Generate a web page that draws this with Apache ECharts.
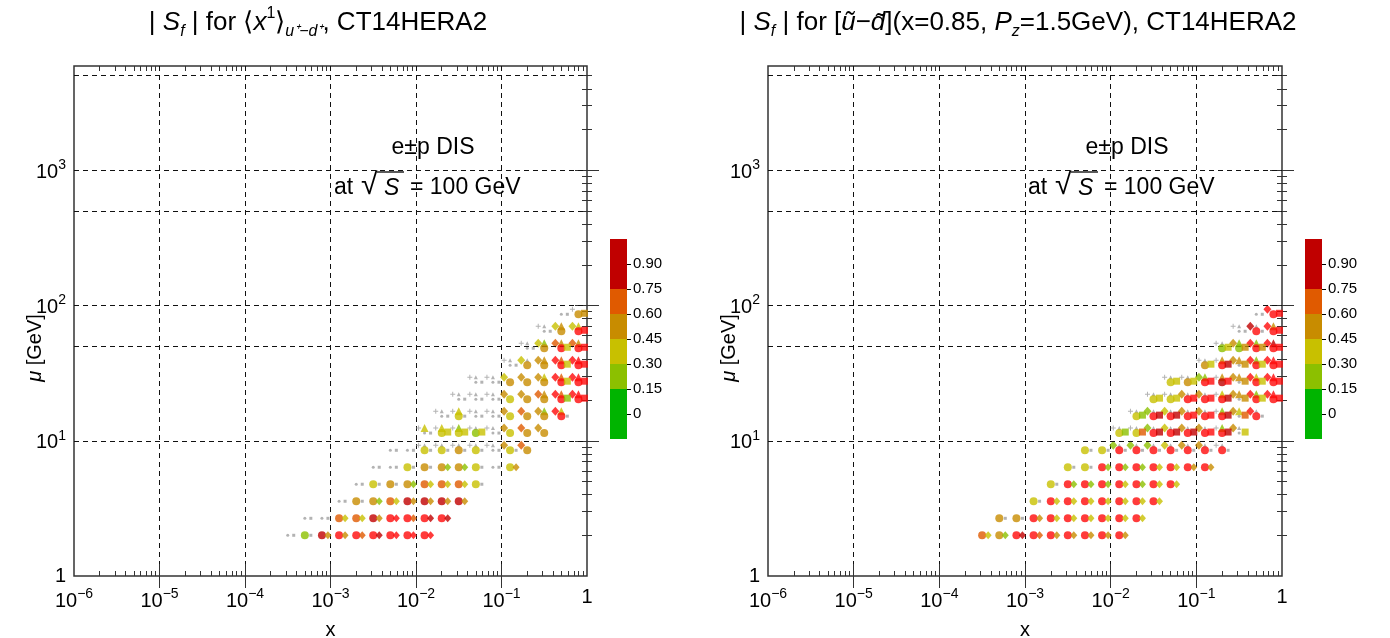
<!DOCTYPE html>
<html>
<head>
<meta charset="utf-8">
<title>Sensitivity maps, CT14HERA2</title>
<script src="https://cdn.jsdelivr.net/npm/echarts@6.0.0/dist/echarts.min.js"></script>
<style>
html, body { margin: 0; padding: 0; background: #ffffff; }
#chart { width: 1390px; height: 638px; }
</style>
</head>
<body>
<div id="chart"></div>
<script>
// ---------- kinematic bins (x, mu) ----------
const xBins = [3.16e-4, 5.01e-4, 7.94e-4, 1.26e-3, 2.00e-3, 3.16e-3, 5.01e-3, 7.94e-3,
               1.26e-2, 2.00e-2, 3.16e-2, 5.01e-2, 7.94e-2, 0.126, 0.200, 0.316, 0.501, 0.794];
const muBins = [2.0, 2.67, 3.57, 4.77, 6.37, 8.5, 11.4, 15.2, 20.3, 27.1, 36.2, 48.3, 64.5, 86.1];
const MU_MAX = 5900;

// guide lines and ticks
const muGuides = [10, 50, 100, 500, 1000, 5000];
const xExponents = [-6, -5, -4, -3, -2, -1, 0];
const muExponents = [0, 1, 2, 3];

// colour scale of |S_f|
const cbTicks = [0, 0.15, 0.30, 0.45, 0.60, 0.75, 0.90];
const cbEdges = [-0.15, 0.15, 0.30, 0.45, 0.60, 0.75, 1.05];
const cbColors = ['#00b400', '#8cc000', '#c8c000', '#c88c00', '#e05a00', '#c00000'];
const overColor = '#ff0a0a';
const faintColor = '#a0a0a0';
const FAINT_CUT = 0.1;

// |S_f| per bin; each row (one per mu bin) = [first x-bin index, values...]
// <x^1>_{u+ - d+}
const leftCircle = [
  [0, [0.05, 0.22, 0.85, 1.2, 1.2, 1.2, 1.2, 1.2, 1.2]],
  [1, [0.05, 0.05, 0.67, 0.67, 0.85, 1.2, 1.2, 1.2, 1.2]],
  [3, [0.05, 0.52, 0.52, 0.67, 0.85, 0.85, 0.85, 0.85]],
  [4, [0.05, 0.37, 0.52, 0.52, 0.67, 0.67, 0.67, 0.37]],
  [5, [0.05, 0.05, 0.37, 0.52, 0.52, 0.52, 0.37, 0.05, 0.37]],
  [6, [0.05, 0.05, 0.37, 0.37, 0.52, 0.37, 0.05, 0.37, 0.52]],
  [8, [0.05, 0.37, 0.37, 0.22, 0.05, 0.37, 0.52, 0.52]],
  [9, [0.05, 0.37, 0.05, 0.05, 0.37, 0.52, 0.52, 1.2]],
  [10, [0.05, 0.05, 0.05, 0.37, 0.52, 0.52, 1.2, 1.2]],
  [11, [0.05, 0.05, 0.52, 0.52, 0.52, 1.2, 1.2]],
  [13, [0.05, 0.52, 0.52, 1.2, 1.2]],
  [14, [0.05, 0.52, 1.2, 1.2]],
  [15, [0.05, 0.52, 1.2]],
  [16, [0.05, 0.52]]
];
const leftSide = [
  [0, [0.05, 0.05, 0.52, 0.52, 0.67, 0.85, 1.2, 1.2, 1.2]],
  [1, [0.05, 0.05, 0.37, 0.37, 0.52, 1.2, 0.67, 0.85, 0.85]],
  [3, [0.05, 0.05, 0.22, 0.37, 0.52, 0.52, 0.52, 0.52]],
  [4, [0.05, 0.05, 0.05, 0.22, 0.37, 0.37, 0.37, 0.05]],
  [5, [0.05, 0.05, 0.05, 0.05, 0.22, 0.22, 0.05, 0.05, 0.52]],
  [6, [0.05, 0.05, 0.05, 0.05, 0.05, 0.05, 0.05, 0.05]],
  [8, [0.05, 0.37, 0.37, 0.37, 0.05]],
  [9, [0.05, 0.05, 0.05, 0.05, null, null, null, 0.05]],
  [10, [0.05, 0.05, 0.05, null, null, null, 0.22, 1.2]],
  [11, [0.05, 0.05, null, null, null, 0.37, 1.2]],
  [13, [0.05, null, null, 0.37, 1.2]],
  [14, [0.05, null, 0.37, 1.2]],
  [15, [0.05, null, 1.2]],
  [16, [0.05, 0.52]]
];
const leftDiamond = [
  null, null, null, null, null,
  [8, [0.05, 0.05, 0.05, 0.05, 0.05, 0.52, 0.67]],
  [8, [0.05, 0.05, 0.05, 0.05, 0.05, 0.52, 0.67, 0.52]],
  [9, [0.05, 0.05, 0.05, 0.05, 0.52, 0.67, 0.52, 1.2]],
  [10, [0.05, 0.05, 0.05, 0.52, 0.52, 0.67, 1.2, 1.2]],
  [11, [0.05, 0.05, 0.37, 0.52, 0.52, 1.2, 1.2]],
  [13, [0.05, 0.37, 0.52, 1.2, 1.2]],
  [14, [0.05, 0.37, 0.67, 0.67]],
  [15, [0.05, 0.37, 0.37]],
  [17, [0.05]]
];
const leftTriangle = [
  null, null, null, null, null,
  [8, [0.05, 0.05, 0.05, 0.05, 0.05]],
  [8, [0.37, 0.37, 0.22, 0.05, 0.05]],
  [9, [0.05, 0.37, 0.05, 0.05, null, null, 0.22, 0.37]],
  [10, [0.05, 0.05, 0.05, null, null, 0.52, 0.67, 1.2]],
  [11, [0.05, 0.05, null, null, 0.37, 0.67, 1.2]],
  [13, [0.05, 0.05, 0.52, 0.67, 1.2]],
  [14, [0.05, 0.22, 0.52, 0.52]],
  [15, [0.05, 0.52, 0.37]],
  null
];

// [u~ - d~](x = 0.85, Pz = 1.5 GeV)
const rightCircle = [
  [0, [0.67, 0.52, 1.2, 1.2, 1.2, 1.2, 1.2, 1.2, 1.2]],
  [1, [0.52, 0.52, 1.2, 1.2, 1.2, 1.2, 1.2, 1.2, 1.2]],
  [3, [0.37, 1.2, 1.2, 1.2, 1.2, 1.2, 1.2, 1.2]],
  [4, [0.37, 1.2, 1.2, 1.2, 1.2, 1.2, 1.2, 1.2]],
  [5, [0.37, 0.37, 1.2, 1.2, 1.2, 1.2, 1.2, 1.2, 1.2]],
  [6, [0.37, 0.37, 1.2, 1.2, 1.2, 1.2, 1.2, 1.2, 1.2]],
  [8, [0.37, 0.37, 1.2, 1.2, 1.2, 1.2, 1.2, 0.05]],
  [9, [0.37, 1.2, 1.2, 1.2, 1.2, 1.2, 0.05, 1.2]],
  [10, [0.37, 0.37, 1.2, 1.2, 1.2, 0.05, 1.2, 1.2]],
  [11, [0.37, 0.52, 1.2, 0.85, 0.05, 1.2, 1.2]],
  [13, [0.52, 1.2, 0.05, 1.2, 1.2]],
  [14, [0.22, 0.22, 1.2, 1.2]],
  [15, [0.05, 1.2, 1.2]],
  [16, [0.05, 1.2]]
];
const rightSide = [
  [0, [0.37, 0.22, 0.85, 0.67, 0.52, 0.52, 0.52, 0.52, 0.52]],
  [1, [0.05, 0.05, 0.52, 0.37, 0.37, 0.37, 0.37, 0.37, 0.37]],
  [3, [0.05, 0.37, 0.37, 0.37, 0.37, 0.37, 0.37, 0.37]],
  [4, [0.05, 0.22, 0.22, 0.22, 0.37, 0.22, 0.37, 0.37]],
  [5, [0.05, 0.05, 0.22, 0.22, 0.22, 0.37, 0.37, 0.52, 0.52]],
  [6, [0.05, 0.05, 0.05, 0.05, 0.05, 0.05, 0.05, 0.05, 0.05]],
  [8, [0.22, 0.67, 0.85, 0.85, 0.85, 1.2, 0.85, 0.37]],
  [9, [0.22, 0.85, 0.85, 1.2, 1.2, 0.85, 0.67, 0.05]],
  [10, [0.37, 0.37, 1.2, 1.2, 0.85, 0.52, 0.37, 1.2]],
  [11, [0.37, 0.37, 1.2, 1.2, 0.52, 0.37, 1.2]],
  [13, [0.37, 0.85, 0.52, 0.37, 1.2]],
  [14, [0.37, 0.52, 0.52, 1.2]],
  [15, [0.05, 0.05, 1.2]],
  [16, [0.05, 1.2]]
];
const rightDiamond = [
  null, null, null, null, null,
  [8, [0.22, 0.22, 0.22, 0.37, 0.52, 0.52, 0.05]],
  [8, [0.05, 0.05, 0.22, 0.37, 0.52, 0.52, 0.05, 0.52]],
  [9, [0.05, 0.22, 0.37, 0.52, 0.52, 0.05, 0.52, 1.2]],
  [10, [0.05, 0.05, 0.52, 0.52, 0.05, 0.52, 1.2, 1.2]],
  [11, [0.05, 0.05, 0.22, 0.05, 0.52, 1.2, 1.2]],
  [13, [0.05, 0.05, 0.52, 1.2, 1.2]],
  [14, [0.05, 0.52, 1.2, 1.2]],
  [15, [0.05, 0.85, 1.2]],
  [17, [1.2]]
];
const rightTriangle = [
  null, null, null, null, null,
  [8, [0.05, 0.05, 0.05, 0.05, 0.05, 0.05, 0.05]],
  [8, [0.05, 0.05, 0.05, 0.05, 0.05, 0.05, 0.22, 0.05]],
  [9, [0.05, 0.05, 0.05, 0.05, 0.05, 0.22, 0.37, 0.05]],
  [10, [0.05, 0.05, 0.05, 0.05, 0.37, 0.52, 0.22, 1.2]],
  [11, [0.05, 0.05, 0.22, 0.52, 0.52, 0.37, 1.2]],
  [13, [0.05, 0.52, 0.52, 0.22, 1.2]],
  [14, [0.05, 0.22, 0.22, 0.85]],
  [15, [0.05, 0.05, 0.52]],
  null
];

// ---------- styling helpers ----------
const FONT = 'Liberation Sans';
const AX = '#333333';

function bandColor(v) {
  if (v < FAINT_CUT) return faintColor;
  if (v > 1) return overColor;
  for (let i = 0; i < cbColors.length; i++) {
    if (v < cbEdges[i + 1]) return cbColors[i];
  }
  return cbColors[cbColors.length - 1];
}

const PLUS = 'path://M2,0L3,0L3,2L5,2L5,3L3,3L3,5L2,5L2,3L0,3L0,2L2,2Z';

// marker shape of each measurement family, with its offset inside a bin cluster
const MARKERS = {
  circle:   (faint, r) => faint ? { symbol: 'circle', size: 3, offset: [0, 0] }
                                : { symbol: 'circle', size: 8, offset: [0, 0] },
  side:     (faint, r) => faint ? { symbol: 'rect', size: 3, offset: [6, 0] }
                                : (r < 6 ? { symbol: 'diamond', size: [7, 8], offset: [6, 0] }
                                         : { symbol: 'rect', size: 7, offset: [6, -1] }),
  diamond:  (faint, r) => faint ? { symbol: PLUS, size: 5, offset: [-6, -5] }
                                : { symbol: 'diamond', size: [8, 9], offset: [-6, -5] },
  triangle: (faint, r) => faint ? { symbol: 'triangle', size: 4, offset: [0, -5] }
                                : { symbol: 'triangle', size: 8, offset: [0, -5] }
};

function markItems(rows, kind) {
  const out = [];
  rows.forEach((row, r) => {
    if (!row) return;
    const j0 = row[0];
    row[1].forEach((v, i) => {
      if (v == null) return;
      const m = MARKERS[kind](v < FAINT_CUT, r);
      out.push({
        value: [xBins[j0 + i], muBins[r], v],
        symbol: m.symbol,
        symbolSize: m.size,
        symbolOffset: m.offset,
        itemStyle: { color: bandColor(v) }
      });
    });
  });
  return out;
}

function powLabel(v) {
  const e = Math.round(v);
  if (Math.abs(v - e) > 1e-6) return '';
  if (e === 0) return '1';
  return '{b|10}{s|' + (e < 0 ? '\u2212' + (-e) : e) + '}';
}
const powRich = {
  b: { fontSize: 20, lineHeight: 24, verticalAlign: 'bottom', fontFamily: FONT, color: '#000' },
  s: { fontSize: 14, lineHeight: 14, verticalAlign: 'top', fontFamily: FONT, color: '#000' }
};

const minorX = [];
for (let n = -6; n < 0; n++) for (let m = 2; m <= 9; m++) minorX.push(n + Math.log10(m));
const minorY = [];
for (let n = 0; n <= 3; n++) for (let m = 2; m <= 9; m++) {
  const t = n + Math.log10(m);
  if (t < Math.log10(MU_MAX)) minorY.push(t);
}

const TF = 26;
const titleRich = {
  i:   { fontSize: TF, lineHeight: 34, fontStyle: 'italic', fontFamily: FONT, color: '#000' },
  sbi: { fontSize: 16, lineHeight: 16, verticalAlign: 'bottom', fontStyle: 'italic', fontFamily: FONT, color: '#000' },
  sp:  { fontSize: 16, lineHeight: 16, verticalAlign: 'top', fontFamily: FONT, color: '#000' }
};

const panels = [
  {
    left: 74, width: 513, cbLeft: 610, titleX: 313,
    title: '| {i|S}{sbi|f} | for \u27E8{i|x}{sp|1}\u27E9{sbi|u\u207A\u2212d\u207A}, CT14HERA2',
    circle: leftCircle, side: leftSide, diamond: leftDiamond, triangle: leftTriangle
  },
  {
    left: 768, width: 514, cbLeft: 1305, titleX: 1013,
    title: '| {i|S}{sbi|f} | for [{i|\u0169}\u2212{i|d\u0303}](x=0.85, {i|P}{sbi|z}=1.5GeV), CT14HERA2',
    circle: rightCircle, side: rightSide, diamond: rightDiamond, triangle: rightTriangle
  }
];

const grid = [], xAxis = [], yAxis = [], series = [], title = [], graphic = [];
const dashed = { type: [5, 4], color: '#111', width: 1 };

function tickAxis(dim, gridIndex, position, major, labelled) {
  const isX = dim === 'x';
  const ax = {
    gridIndex: gridIndex,
    type: 'value',
    position: position,
    min: isX ? -6 : 0,
    max: isX ? 0 : Math.log10(MU_MAX),
    interval: 1,
    axisLine: { show: false },
    splitLine: { show: false },
    axisTick: {
      show: true, inside: true, length: major ? 12 : 5,
      lineStyle: { color: AX, width: 1 },
      customValues: major ? (isX ? [-5, -4, -3, -2, -1] : [1, 2, 3]) : (isX ? minorX : minorY)
    },
    axisLabel: { show: false }
  };
  if (labelled) {
    ax.axisLabel = {
      show: true, formatter: powLabel, fontSize: 20, fontFamily: FONT, color: '#000',
      margin: isX ? 11 : 8, rich: powRich,
      customValues: isX ? xExponents : muExponents
    };
    if (isX) {
      ax.name = 'x';
      ax.nameLocation = 'middle';
      ax.nameGap = 44;
      ax.nameMoveOverlap = false;
      ax.nameTextStyle = { fontSize: 20, fontFamily: FONT, color: '#000' };
      // vertical dashed lines at each decade of x
      ax.splitLine = { show: true, lineStyle: dashed };
    }
  }
  return ax;
}

panels.forEach((p, pi) => {
  const g = grid.length;
  grid.push({ left: p.left, top: 66, width: p.width, height: 510, show: true,
              borderColor: AX, borderWidth: 1.5, backgroundColor: 'transparent',
              outerBoundsMode: 'none' });
  const xi = xAxis.length;
  xAxis.push({ gridIndex: g, type: 'log', logBase: 10, min: 1e-6, max: 1, show: false });
  const yi = yAxis.length;
  yAxis.push({ gridIndex: g, type: 'log', logBase: 10, min: 1, max: MU_MAX, show: false });

  xAxis.push(tickAxis('x', g, 'bottom', true, true));
  xAxis.push(tickAxis('x', g, 'bottom', false, false));
  xAxis.push(tickAxis('x', g, 'top', true, false));
  xAxis.push(tickAxis('x', g, 'top', false, false));
  yAxis.push(tickAxis('y', g, 'left', true, true));
  yAxis.push(tickAxis('y', g, 'left', false, false));
  yAxis.push(tickAxis('y', g, 'right', true, false));
  yAxis.push(tickAxis('y', g, 'right', false, false));

  // horizontal dashed guide lines in mu
  series.push({
    type: 'scatter', xAxisIndex: xi, yAxisIndex: yi, data: [], z: 1, silent: true,
    markLine: {
      silent: true, symbol: ['none', 'none'], label: { show: false },
      lineStyle: dashed, emphasis: { disabled: true },
      data: muGuides.map(v => ({ yAxis: v }))
    }
  });

  ['diamond', 'triangle', 'circle', 'side'].forEach((kind, k) => {
    series.push({
      type: 'scatter', name: kind, xAxisIndex: xi, yAxisIndex: yi, z: 3 + k,
      silent: true, data: markItems(p[kind], kind)
    });
  });

  // colour bar
  const cg = grid.length;
  grid.push({ left: p.cbLeft, top: 239, width: 17, height: 200, outerBoundsMode: 'none' });
  const cx = xAxis.length;
  xAxis.push({ gridIndex: cg, type: 'category', data: [''], show: false });
  const cy = yAxis.length;
  yAxis.push({
    gridIndex: cg, type: 'value', position: 'right', min: -0.15, max: 1.05, interval: 0.15,
    axisLine: { show: false }, splitLine: { show: false },
    axisTick: { show: true, length: 4, lineStyle: { color: '#000' }, customValues: cbTicks },
    axisLabel: {
      fontSize: 15, fontFamily: FONT, color: '#000', margin: 6, customValues: cbTicks,
      formatter: v => {
        const r = Math.round(v * 100);
        if (r < 0 || r > 100) return '';
        return r === 0 ? '0' : (r / 100).toFixed(2);
      }
    }
  });
  for (let b = 0; b < cbColors.length; b++) {
    const lo = cbEdges[b], hi = cbEdges[b + 1];
    const parts = (lo < 0 && hi > 0) ? [lo, hi] : [hi - lo];
    parts.forEach(val => {
      series.push({
        type: 'bar', xAxisIndex: cx, yAxisIndex: cy, stack: 'cb' + pi, barWidth: '100%',
        silent: true, data: [val], itemStyle: { color: cbColors[b] }
      });
    });
  }

  title.push({
    text: p.title, left: p.titleX, top: 1, textAlign: 'center',
    textStyle: { fontSize: TF, lineHeight: 34, fontWeight: 'normal', fontFamily: FONT, color: '#000', rich: titleRich }
  });

  const dx = p.left - 74;

  // y-axis title, read bottom to top
  graphic.push({
    type: 'text', x: 35 + dx, y: 348, rotation: Math.PI / 2, z: 100, silent: true,
    style: {
      text: '{i|\u03BC} [GeV]', fontSize: 20, fontFamily: FONT, fill: '#000',
      align: 'center', verticalAlign: 'middle',
      rich: { i: { fontSize: 20, fontStyle: 'italic', fontFamily: FONT, fill: '#000' } }
    }
  });

  // process label: e±p DIS at sqrt(S) = 100 GeV
  const txt = (x, y, text, extra) => ({
    type: 'text', x: x + dx, y: y, z: 100, silent: true,
    style: Object.assign({ text: text, fontSize: 23, fontFamily: FONT, fill: '#000',
                           align: 'left', verticalAlign: 'middle' }, extra || {})
  });
  graphic.push(txt(433, 148, 'e\u00B1p DIS', { align: 'center' }));
  graphic.push(txt(334, 188, 'at'));
  graphic.push(txt(361, 186, '\u221A', { fontSize: 30 }));
  graphic.push(txt(384, 189, 'S', { fontStyle: 'italic' }));
  graphic.push(txt(410, 188, '= 100 GeV'));
  graphic.push({
    type: 'line', z: 100, silent: true,
    shape: { x1: 377 + dx, y1: 172, x2: 404 + dx, y2: 172 },
    style: { stroke: '#000', lineWidth: 1.3 }
  });
});

const chart = echarts.init(document.getElementById('chart'), null, { renderer: 'canvas' });
chart.setOption({
  animation: false,
  backgroundColor: '#ffffff',
  textStyle: { fontFamily: FONT },
  title: title,
  grid: grid,
  xAxis: xAxis,
  yAxis: yAxis,
  series: series,
  graphic: graphic
});
</script>
</body>
</html>
